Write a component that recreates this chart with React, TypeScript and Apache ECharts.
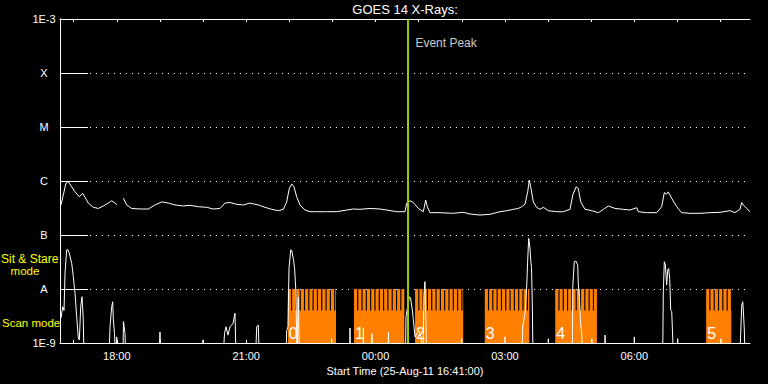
import React, { useEffect, useRef } from "react";
import * as echarts from "echarts";

const FONT = "Liberation Sans, Arial, sans-serif";
const ORANGE = "#ff8000";
const GREEN = "#99cc00";

// ---- axis / text data ----
const START_CLOCK = "16:41";
const SPAN_MINUTES = 960;
const titleText = "GOES 14 X-Rays:";
const xAxisName = "Start Time (25-Aug-11 16:41:00)";
const xTickLabels = ["18:00", "21:00", "00:00", "03:00", "06:00"];
const hourTicks = [
  "17:00", "18:00", "19:00", "20:00", "21:00", "22:00", "23:00", "00:00",
  "01:00", "02:00", "03:00", "04:00", "05:00", "06:00", "07:00", "08:00",
];
const yLevelLabels = ["1E-9", "A", "B", "C", "M", "X", "1E-3"];
const yExponents = [-9, -8, -7, -6, -5, -4, -3];

const eventPeakTime = "00:45";
const eventPeakLabel = "Event Peak";
const eventLabelFlux = 3.6e-4;

// ---- scan mode blocks ----
const scanStart = ["21:58", "23:30", "00:55", "02:32", "04:10", "07:40"];
const scanEnd = ["23:05", "00:40", "02:02", "03:34", "05:08", "08:15"];
const scanLabels = ["0", "1", "2", "3", "4", "5"];
const scanFloor = 1e-9;
const scanSolidTop = 4e-9;
const scanStripeTop = 1e-8;
const STRIPE_PERIOD = 6; // minutes
const STRIPE_GAP = 1.6; // minutes

// ---- long channel (minutes after start, W/m^2) ----
const longT = [
  1.4, 8.3, 11.5, 16.3, 20.9, 26.9, 31.6, 34.8, 39.4, 46.3, 53.3, 60.2, 67.2, 71.9, 76.5, 78.9,
  83,
  88.1, 92.8, 99.8, 111.3, 122.9, 132.2, 141.5, 150.7, 160, 171.5, 180.9, 192.4, 204.1, 213.3,
  222.6, 229.6, 236.5, 245.8, 255, 264.3, 275.9, 285.2, 294.5, 303.7, 310.7, 315.4, 319, 322.4,
  325.6, 329.3, 333.9, 340.9, 347.8, 357.2, 371.1, 385, 398.9, 408.1, 417.4, 431.3, 445.2, 454.5,
  468.5, 480, 482.4, 487, 491.6, 498.5, 505.5, 506.4, 508.8, 511, 514.8, 528.7, 547.2, 561.1,
  570.4, 584.3, 598.3, 612.2, 621.5, 630.7, 637.6, 642.4, 647, 650.7, 653, 655.3, 658.5, 663.2,
  667.8, 672.4, 679.4, 691.1, 700.3, 709.6, 713.4, 718, 721.1, 724.5, 730.4, 739.8, 749, 756,
  762.9, 772.3, 783.8, 793.1, 802.4, 804.6, 816.3, 830.2, 837.1, 840.8, 844.1, 846.3, 851, 858,
  864.9, 876.5, 890.4, 904.3, 918.3, 932.2, 939.1, 946.1, 948.5, 950.7, 955.4, 960,
];
const longF: (number | null)[] = [
  3.6e-7, 9.1e-7, 9.7e-7, 7.8e-7, 6.3e-7, 5.1e-7, 5.9e-7, 5.0e-7, 3.9e-7, 3.26e-7, 3.1e-7, 3.44e-7, 3.9e-7, 4.3e-7, 3.9e-7, 3.7e-7,
  null,
  4.8e-7, 3.6e-7, 3.1e-7, 3.03e-7, 3.03e-7, 3.6e-7, 4.1e-7, 3.9e-7, 3.6e-7, 3.44e-7, 3.55e-7, 3.34e-7, 3.26e-7, 3.03e-7,
  3.1e-7, 3.9e-7, 4.0e-7, 3.7e-7, 3.6e-7, 3.9e-7, 3.6e-7, 3.26e-7, 2.99e-7, 2.82e-7, 2.99e-7, 4.1e-7, 7.3e-7, 8.8e-7,
  7.8e-7, 5.1e-7, 3.6e-7, 2.9e-7, 2.7e-7, 2.7e-7, 2.7e-7, 2.7e-7, 2.9e-7, 3.03e-7, 2.99e-7, 3.1e-7, 3.03e-7, 2.9e-7,
  2.7e-7, 2.7e-7, 3.9e-7, 4.3e-7, 4.0e-7, 3.1e-7, 2.7e-7, 2.7e-7, 4.45e-7, 3.34e-7, 2.59e-7, 2.59e-7, 2.52e-7, 2.63e-7,
  2.45e-7, 2.34e-7, 2.42e-7, 2.7e-7, 2.82e-7, 2.99e-7, 3.1e-7, 3.34e-7, 3.75e-7, 6.3e-7, 1.04e-6, 7.3e-7, 4.1e-7, 3.26e-7,
  2.99e-7, 3.26e-7, 2.82e-7, 2.7e-7, 2.7e-7, 2.99e-7, 5.5e-7, 7.8e-7, 7.3e-7, 4.1e-7, 2.99e-7, 2.82e-7, 2.59e-7, 2.99e-7,
  3.44e-7, 3.1e-7, 2.99e-7, 2.9e-7, 3.2e-7, 2.7e-7, 2.59e-7, 2.59e-7, 3.34e-7, 6.1e-7, 5.7e-7, 6.3e-7, 4.8e-7, 3.34e-7,
  2.59e-7, 2.52e-7, 2.52e-7, 2.59e-7, 2.63e-7, 2.82e-7, 2.59e-7, 2.99e-7, 4.0e-7, 3.6e-7, 3.1e-7, 2.7e-7,
];

// ---- short channel (minutes after start, W/m^2); 5e-10 = below the axis ----
const shortT = [
  1.4, 3.8, 5.6, 7.0, 9.3, 10.7, 12.9, 16.3, 18.5, 20.9, 23.2, 25.5, 26.9, 28.8, 30.6, 32.4, 33.4,
  68.2, 69.6, 71.9, 73.3, 74.2, 75.8, 77.5, 78.9, 80.3,
  87.5, 88.3, 90.4, 91.8, 137.7, 139.1, 140.5, 197.6, 199, 200.3,
  226.8, 228.9, 231, 233.7, 236.5, 238.9, 240.7, 243.5, 244.9, 272, 273.7, 275.9, 277.3,
  314.4, 315.4, 317.2, 318.6, 321, 322.4, 325, 326.4, 328.1, 329.8, 331.6, 333,
  377, 378, 378.9, 402.8, 403.5, 404.4, 421.6, 422, 423, 432.7, 434, 435.5, 456.3, 457, 457.7,
  480.7, 481.4, 486, 487.7, 490.2, 491.6, 493.9, 496.7, 499.5, 502.3, 505, 506.4, 507.8, 508.9, 509.9,
  557.9, 558.9, 559.7, 618.4, 619.1, 619.8,
  642.8, 643.7, 647, 649.3, 650.7, 652.1, 653, 653.9, 654.9, 656, 657.1, 658.1,
  679, 679.4, 680.1,
  712.8, 713.4, 715.5, 717.5, 720.3, 721.1, 722.5, 724.5, 725.9, 727,
  739.4, 739.9, 740.7, 757.7, 758.3, 759.2, 798.6, 799, 799.7,
  838.5, 839.4, 840.8, 842.2, 844.1, 845.5, 846.9, 848.3, 849.7, 851.1, 852.5, 853.3,
  858.8, 859.4, 860.1, 919.2, 919.6, 920.3,
  945.7, 948.5, 949.9, 950.7, 952.1, 953.1, 960,
];
const shortF = [
  2.9e-9, 4.7e-9, 4.0e-9, 1.98e-8, 5.3e-8, 5.4e-8, 4.6e-8, 3.0e-8, 1.69e-8, 8.3e-9, 3.1e-9, 1.24e-9, 1.14e-9, 4.7e-9, 7.2e-9, 2.7e-9, 5e-10,
  5e-10, 2.0e-9, 4.7e-9, 5.8e-9, 2.7e-9, 1.5e-9, 5e-10, 1.3e-9, 5e-10,
  5e-10, 2.5e-9, 1.5e-9, 5e-10, 5e-10, 1.6e-9, 5e-10, 5e-10, 1.14e-9, 5e-10,
  5e-10, 1.5e-9, 2.0e-9, 1.4e-9, 2.0e-9, 2.15e-9, 2.3e-9, 3.55e-9, 5e-10, 5e-10, 2.0e-9, 2.15e-9, 5e-10,
  5e-10, 1.7e-9, 2.0e-9, 2.4e-8, 5.3e-8, 5.2e-8, 3.4e-8, 2.4e-8, 9.6e-9, 5e-10, 7e-9, 5e-10,
  5e-10, 1.2e-9, 5e-10, 5e-10, 1.9e-9, 5e-10, 5e-10, 1.9e-9, 5e-10, 5e-10, 1.5e-9, 5e-10, 5e-10, 1.6e-9, 5e-10,
  5e-10, 3.1e-9, 7.2e-9, 6.8e-9, 4.1e-9, 2.7e-9, 1.3e-9, 1.5e-9, 1.7e-9, 1.3e-9, 5e-10, 7.7e-9, 1.37e-8, 3.5e-9, 5e-10,
  5e-10, 1.2e-9, 5e-10, 5e-10, 1.3e-9, 5e-10,
  5e-10, 2.0e-9, 3.55e-9, 1.1e-8, 3.4e-8, 8.7e-8, 8.7e-8, 5.7e-8, 3.4e-8, 2.5e-8, 5.8e-9, 5e-10,
  5e-10, 1.2e-9, 5e-10,
  5e-10, 1.1e-8, 3.2e-8, 3.3e-8, 2.8e-8, 1.28e-8, 7.2e-9, 2.15e-9, 1.5e-9, 5e-10,
  5e-10, 1.2e-9, 5e-10, 5e-10, 1.4e-9, 5e-10, 5e-10, 1.3e-9, 5e-10,
  5e-10, 8.9e-9, 3.2e-8, 2.8e-8, 1.19e-8, 2.25e-8, 2.4e-8, 1.5e-8, 4.1e-9, 3.8e-9, 1.24e-9, 5e-10,
  5e-10, 1.2e-9, 5e-10, 5e-10, 1.2e-9, 5e-10,
  5e-10, 5.05e-9, 5.8e-9, 4.1e-9, 1.74e-9, 5e-10, 5e-10,
];

function clockToMin(c: string): number {
  const [h, m] = c.split(":").map(Number);
  const [sh, sm] = START_CLOCK.split(":").map(Number);
  return (h * 60 + m - (sh * 60 + sm) + 1440) % 1440;
}

export default function App() {
  const ref = useRef<HTMLDivElement>(null);

  useEffect(() => {
    if (!ref.current) return;
    const chart = echarts.init(ref.current, null, { renderer: "svg" });

    const xLabelValues = xTickLabels.map(clockToMin);
    const hourTickValues = hourTicks.map(clockToMin);
    const eventX = clockToMin(eventPeakTime);

    const longData = longT.map((t, i) => [t, longF[i] == null ? "-" : longF[i]]);
    const shortData = shortT.map((t, i) => [t, shortF[i]]);
    const scanData = scanStart.map((s, i) => [clockToMin(s), clockToMin(scanEnd[i]), scanStripeTop]);

    const yLabelFmt = (v: number) => {
      const e = Math.round(Math.log10(v));
      const i = yExponents.indexOf(e);
      return i >= 0 ? yLevelLabels[i] : "";
    };

    const white = { color: "#fff", width: 1 };

    const xBase = {
      type: "value",
      min: 0,
      max: SPAN_MINUTES,
      splitLine: { show: false },
      minorTick: { show: false },
    };
    // frame axes (no ticks) + tick-only axes shifted inward so ticks sit inside the frame
    const xFrame = { ...xBase, axisLine: { show: true, onZero: false, lineStyle: white }, axisTick: { show: false } };
    const xTicks = {
      ...xBase,
      offset: -3,
      axisLine: { show: false, onZero: false },
      axisLabel: { show: false },
      axisTick: { show: true, inside: false, length: 3, customValues: hourTickValues, lineStyle: white },
    };

    const yBase = {
      type: "log",
      logBase: 10,
      min: 1e-9,
      max: 1e-3,
      minorTick: { show: false },
      minorSplitLine: { show: false },
    };
    const yTicks = {
      ...yBase,
      offset: -14,
      axisLine: { show: false },
      axisLabel: { show: false },
      splitLine: { show: false },
      axisTick: { show: true, inside: false, length: 14, lineStyle: white },
    };

    const option: any = {
      animation: false,
      backgroundColor: "#000",
      title: {
        text: titleText,
        left: 405,
        top: 3,
        padding: 0,
        textAlign: "center",
        textStyle: { color: "#fff", fontSize: 13, fontWeight: "normal", fontFamily: FONT },
      },
      grid: { left: 60, right: 18, top: 19, bottom: 41, containLabel: false, outerBoundsMode: "none" },
      xAxis: [
        {
          ...xFrame,
          position: "bottom",
          name: xAxisName,
          nameLocation: "middle",
          nameGap: 19,
          nameTextStyle: { color: "#fff", fontSize: 11, fontFamily: FONT, verticalAlign: "top" },
          axisLabel: {
            show: true,
            customValues: xLabelValues,
            margin: 7,
            color: "#fff",
            fontSize: 11,
            fontFamily: FONT,
            formatter: (v: number) => {
              const i = xLabelValues.indexOf(Math.round(v));
              return i >= 0 ? xTickLabels[i] : "";
            },
          },
        },
        { ...xFrame, position: "top", axisLabel: { show: false } },
        { ...xTicks, position: "bottom" },
        { ...xTicks, position: "top" },
      ],
      yAxis: [
        {
          ...yBase,
          position: "left",
          axisLine: { show: true, lineStyle: white },
          axisTick: { show: false },
          axisLabel: {
            show: true,
            formatter: yLabelFmt,
            color: "#fff",
            fontSize: 11,
            fontFamily: FONT,
            margin: 16,
            align: "center",
          },
          splitLine: {
            show: true,
            showMinLine: false,
            showMaxLine: false,
            lineStyle: { color: "#fff", width: 1, type: [1, 5] },
          },
        },
        {
          ...yBase,
          position: "right",
          axisLine: { show: true, lineStyle: white },
          axisTick: { show: false },
          axisLabel: { show: false },
          splitLine: { show: false },
        },
        { ...yTicks, position: "left" },
        { ...yTicks, position: "right" },
      ],
      graphic: [
        { type: "text", x: 1, y: 259, style: { text: "Sit & Stare", fill: "#ffff00", fontSize: 12, fontFamily: FONT, verticalAlign: "middle" } },
        { type: "text", x: 25, y: 271, style: { text: "mode", fill: "#ffff00", fontSize: 11.5, fontFamily: FONT, align: "center", verticalAlign: "middle" } },
        { type: "text", x: 2, y: 323, style: { text: "Scan mode", fill: "#ffff00", fontSize: 11.5, fontFamily: FONT, verticalAlign: "middle" } },
      ],
      series: [
        {
          type: "custom",
          name: "scan",
          coordinateSystem: "cartesian2d",
          xAxisIndex: 0,
          yAxisIndex: 0,
          z: 1,
          silent: true,
          encode: { x: [0, 1], y: 2 },
          data: scanData,
          renderItem: (params: any, api: any) => {
            const s = api.value(0);
            const e = api.value(1);
            const bl = api.coord([s, scanFloor]);
            const tr = api.coord([e, scanSolidTop]);
            const children: any[] = [
              {
                type: "rect",
                shape: { x: bl[0], y: tr[1], width: tr[0] - bl[0], height: bl[1] - tr[1] },
                style: { fill: ORANGE },
              },
            ];
            for (let t = s; t < e - 0.3; t += STRIPE_PERIOD) {
              const t2 = Math.min(t + STRIPE_PERIOD - STRIPE_GAP, e);
              const a = api.coord([t, scanStripeTop]);
              const b = api.coord([t2, scanSolidTop]);
              children.push({
                type: "rect",
                shape: { x: a[0], y: a[1], width: b[0] - a[0], height: b[1] - a[1] + 0.5 },
                style: { fill: ORANGE },
              });
            }
            children.push({
              type: "text",
              style: {
                text: scanLabels[params.dataIndex],
                x: bl[0] + 1,
                y: bl[1] - 2,
                fill: "#fff",
                fontSize: 16,
                fontFamily: FONT,
                verticalAlign: "bottom",
              },
            });
            return { type: "group", children };
          },
        },
        {
          type: "line",
          name: "long",
          xAxisIndex: 0,
          yAxisIndex: 0,
          data: longData,
          showSymbol: false,
          connectNulls: false,
          clip: true,
          z: 3,
          lineStyle: { color: "#fff", width: 1 },
          itemStyle: { color: "#fff" },
        },
        {
          type: "line",
          name: "short",
          xAxisIndex: 0,
          yAxisIndex: 0,
          data: shortData,
          showSymbol: false,
          clip: true,
          z: 3,
          lineStyle: { color: "#fff", width: 1 },
          itemStyle: { color: "#fff" },
        },
        {
          type: "scatter",
          name: "event",
          xAxisIndex: 0,
          yAxisIndex: 0,
          data: [[eventX, eventLabelFlux]],
          symbolSize: 1,
          z: 5,
          itemStyle: { color: "rgba(0,0,0,0)" },
          label: {
            show: true,
            position: "right",
            distance: 7,
            formatter: eventPeakLabel,
            color: "#fff",
            fontSize: 12,
            fontFamily: FONT,
          },
          markLine: {
            silent: true,
            symbol: "none",
            label: { show: false },
            lineStyle: { color: GREEN, width: 2, type: "solid" },
            data: [{ xAxis: eventX }],
          },
        },
      ],
    };

    chart.setOption(option);
    return () => chart.dispose();
  }, []);

  return (
    <div
      ref={ref}
      style={{ position: "fixed", left: 0, top: 0, width: 768, height: 384, background: "#000" }}
    />
  );
}
